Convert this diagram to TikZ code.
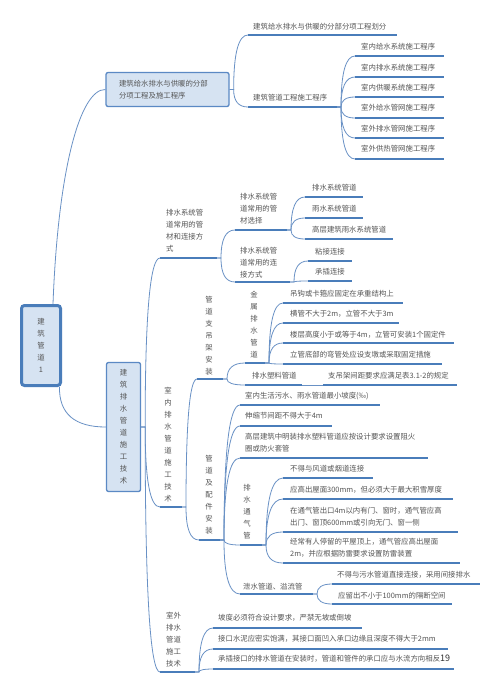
\documentclass[tikz,border=0pt]{standalone}
\usepackage{fontspec}
\setmainfont{Noto Sans CJK SC}
\usetikzlibrary{calc}
\definecolor{tg}{RGB}{85,85,85}
\definecolor{ulc}{RGB}{74,125,186}
\definecolor{cnc}{RGB}{105,145,197}
\definecolor{bxf}{RGB}{214,227,242}
\definecolor{bxd}{RGB}{91,137,196}
\newcommand\mmt[8][txt]{%
  \node[#1] (#2) at (#3,#4) {#5};
  \coordinate (#2L) at (#6,#8);
  \coordinate (#2R) at (#7,#8);
  \draw[ul] (#2L) -- (#2R);}
\begin{document}
\begin{tikzpicture}[x=1pt,y=-1pt,
  txt/.style={anchor=west,inner sep=0pt,align=left,text=tg,font=\fontsize{7.4}{12}\selectfont},
  vtxt/.style={anchor=center,inner sep=0pt,align=center,text=tg,font=\fontsize{7.4}{12}\selectfont},
  ul/.style={draw=ulc,line width=2pt},
  conn/.style={draw=cnc,line width=0.8pt},
  mm/.style={to path={-- ($(\tikztostart)+(4,0)$) coordinate (mmS) .. controls ($(mmS)!0.6667!(mmS|-\tikztotarget)$) and ($(\tikztotarget)!0.6667!(mmS|-\tikztotarget)$) .. (\tikztotarget)}},
  box/.style={draw=bxd,fill=bxf,line width=1.3pt,rounded corners=2pt,text=tg,font=\fontsize{7.4}{12}\selectfont}
]
\useasboundingbox[fill=white] (0,0) rectangle (500,697);

% boxes
\node[box,align=left,text width=97pt,inner xsep=13pt,inner ysep=4pt,minimum height=34pt] (box1) at (167.5,89.5) {建筑给水排水与供暖的分部\\分项工程及施工程序};
\node[box,align=center,minimum width=34pt,minimum height=129pt,inner sep=0pt] (box2) at (123.5,427) {建\\筑\\排\\水\\管\\道\\施\\工\\技\\术};
\node[box,line width=3pt,draw=ulc,rounded corners=3pt,align=center,minimum width=39pt,minimum height=80pt,inner sep=0pt] (root) at (41,345.5) {建\\筑\\管\\道\\1};
\coordinate (rootT) at ($(root.north)+(12,0)$);
\coordinate (rootB) at ($(root.south east)+(-2.5,0)$);
\draw[conn] (rootT) .. controls (58,170) and (80,89) .. (box1.west);
\draw[conn] (rootB) .. controls (59,414) and (75,427) .. (box2.west);

% topics
\mmt{T1}{253}{27}{建筑给水排水与供暖的分部分项工程划分}{248}{397}{35}
\mmt{T2}{253}{98}{建筑管道工程施工程序}{248}{337}{107}
\mmt{T2a}{361}{47}{室内给水系统施工程序}{355}{444}{56}
\mmt{T2b}{361}{68}{室内排水系统施工程序}{355}{444}{77}
\mmt{T2c}{361}{88}{室内供暖系统施工程序}{355}{444}{97}
\mmt{T2d}{361}{108}{室外给水管网施工程序}{355}{444}{118}
\mmt{T2e}{361}{129}{室外排水管网施工程序}{355}{444}{138}
\mmt{T2f}{361}{149}{室外供热管网施工程序}{355}{444}{159}

\mmt{A}{166}{231}{排水系统管\\道常用的管\\材和连接方\\式}{160}{217}{258}
\mmt{Aa}{240}{209}{排水系统管\\道常用的管\\材选择}{235}{287}{230}
\mmt{Ab}{240}{262.5}{排水系统管\\道常用的连\\接方式}{235}{290}{282}
\mmt{Aa1}{312}{188}{排水系统管道}{305}{363}{197}
\mmt{Aa2}{312}{209}{雨水系统管道}{305}{363}{218}
\mmt{Aa3}{312}{230}{高层建筑雨水系统管道}{305}{393}{239}
\mmt{Ab1}{315}{252}{粘接连接}{308}{352}{261}
\mmt{Ab2}{315}{272}{承插连接}{308}{352}{281}

\mmt[vtxt]{B}{168}{444.5}{室\\内\\排\\水\\管\\道\\施\\工\\技\\术}{160}{182}{507}
\mmt[vtxt]{Ba}{209}{335.5}{管\\道\\支\\吊\\架\\安\\装}{197}{223}{379}
\mmt[vtxt]{Baa}{254}{324.5}{金\\属\\排\\水\\管\\道}{245}{265}{363}
\mmt{Baa1}{290}{294}{吊钩或卡箍应固定在承重结构上}{283}{403}{303}
\mmt{Baa2}{290}{314}{横管不大于2m，立管不大于3m}{283}{399}{323}
\mmt{Baa3}{290}{335}{楼层高度小于或等于4m，立管可安装1个固定件}{283}{454}{343}
\mmt{Baa4}{290}{355}{立管底部的弯管处应设支墩或采取固定措施}{283}{442}{364}
\mmt{Bab}{252}{376}{排水塑料管道}{245}{302}{385}
\mmt{Bab1}{328}{376}{支吊架间距要求应满足表3.1-2的规定}{323}{457}{385}
\mmt[vtxt]{Bb}{209}{494.5}{管\\道\\及\\配\\件\\安\\装}{199}{220}{540}
\mmt{Bb1}{245}{396}{室内生活污水、雨水管道最小坡度(‰)}{240}{380}{405}
\mmt{Bb2}{245}{416}{伸缩节间距不得大于4m}{240}{332}{426}
\mmt{Bb3}{245}{443}{高层建筑中明装排水塑料管道应按设计要求设置阻火\\圈或防火套管}{240}{428}{458}
\mmt[vtxt]{Bb4}{247}{512}{排\\水\\通\\气\\管}{240}{262}{545}
\mmt{Bb5}{243}{587}{泄水管道、溢流管}{240}{313}{594}
\mmt{Bb41}{290}{469}{不得与风道或烟道连接}{283}{373}{478}
\mmt{Bb42}{290}{490}{应高出屋面300mm，但必须大于最大积雪厚度}{283}{453}{499}
\mmt{Bb43}{290}{517}{在通气管出口4m以内有门、窗时，通气管应高\\出门、窗顶600mm或引向无门、窗一侧}{283}{458}{532}
\mmt{Bb44}{290}{548}{经常有人停留的平屋顶上，通气管应高出屋面\\2m，并应根据防雷要求设置防雷装置}{283}{460}{563}
\mmt{Bb51}{337}{575}{不得与污水管道直接连接，采用间接排水}{332}{480}{584}
\mmt{Bb52}{338}{596}{应留出不小于100mm的隔断空间}{332}{452}{604}
\mmt{C}{166}{639.5}{室外\\排水\\管道\\施工\\技术}{160}{195}{672}
\mmt{C1}{218}{618}{坡度必须符合设计要求，严禁无坡或倒坡}{213}{362}{628}
\mmt{C2}{218}{639}{接口水泥应密实饱满，其接口面凹入承口边缘且深度不得大于2mm}{213}{448}{649}
\mmt{C3}{218}{659}{承插接口的排水管道在安装时，管道和管件的承口应与水流方向相反{\color{black!80}\fontsize{9}{12}\selectfont 19}}{213}{454}{669}

% connectors
\draw[conn] (box1.east) to[mm] (T1L);
\draw[conn] (box1.east) to[mm] (T2L);
\draw[conn] (T2R) to[mm] (T2aL);
\draw[conn] (T2R) to[mm] (T2bL);
\draw[conn] (T2R) to[mm] (T2cL);
\draw[conn] (T2R) to[mm] (T2dL);
\draw[conn] (T2R) to[mm] (T2eL);
\draw[conn] (T2R) to[mm] (T2fL);
\draw[conn] (box2.east) to[mm] (AL);
\draw[conn] (box2.east) to[mm] (BL);
\draw[conn] (box2.east) to[mm] (CL);
\draw[conn] (AR) to[mm] (AaL);
\draw[conn] (AR) to[mm] (AbL);
\draw[conn] (AaR) to[mm] (Aa1L);
\draw[conn] (AaR) to[mm] (Aa2L);
\draw[conn] (AaR) to[mm] (Aa3L);
\draw[conn] (AbR) to[mm] (Ab1L);
\draw[conn] (AbR) to[mm] (Ab2L);
\draw[conn] (BR) to[mm] (BaL);
\draw[conn] (BR) to[mm] (BbL);
\draw[conn] (BaR) to[mm] (BaaL);
\draw[conn] (BaR) to[mm] (BabL);
\draw[conn] (BaaR) to[mm] (Baa1L);
\draw[conn] (BaaR) to[mm] (Baa2L);
\draw[conn] (BaaR) to[mm] (Baa3L);
\draw[conn] (BaaR) to[mm] (Baa4L);
\draw[conn] (BabR) -- (Bab1L);
\draw[conn] (BbR) to[mm] (Bb1L);
\draw[conn] (BbR) to[mm] (Bb2L);
\draw[conn] (BbR) to[mm] (Bb3L);
\draw[conn] (BbR) to[mm] (Bb4L);
\draw[conn] (BbR) to[mm] (Bb5L);
\draw[conn] (Bb4R) to[mm] (Bb41L);
\draw[conn] (Bb4R) to[mm] (Bb42L);
\draw[conn] (Bb4R) to[mm] (Bb43L);
\draw[conn] (Bb4R) to[mm] (Bb44L);
\draw[conn] (Bb5R) to[mm] (Bb51L);
\draw[conn] (Bb5R) to[mm] (Bb52L);
\draw[conn] (CR) to[mm] (C1L);
\draw[conn] (CR) to[mm] (C2L);
\draw[conn] (CR) to[mm] (C3L);
\end{tikzpicture}
\end{document}
